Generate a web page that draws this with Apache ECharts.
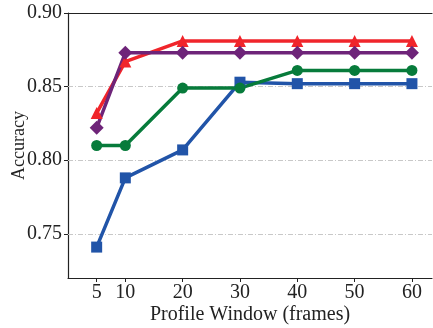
<!DOCTYPE html>
<html><head><meta charset="utf-8">
<script src="https://cdn.jsdelivr.net/npm/echarts@6/dist/echarts.min.js"></script>
<style>html,body{margin:0;padding:0;background:#fff}#c{width:433px;height:328px}</style>
</head><body><div id="c"></div>
<script>
const windows = [5, 10, 20, 30, 40, 50, 60];
const xTicks = [5, 10, 20, 30, 40, 50, 60];
const yTicks = [0.75, 0.80, 0.85, 0.90];
const blueSquare = [0.741, 0.788, 0.807, 0.853, 0.852, 0.852, 0.852];
const greenCircle = [0.810, 0.810, 0.849, 0.849, 0.861, 0.861, 0.861];
const redTriangle = [0.832, 0.867, 0.881, 0.881, 0.881, 0.881, 0.881];
const purpleDiamond = [0.822, 0.873, 0.873, 0.873, 0.873, 0.873, 0.873];

const font = 'Liberation Serif';
function mk(name, vals, color, symbol, size) {
  return {
    name, type: 'line', data: windows.map((w, i) => [w, vals[i]]),
    symbol, symbolSize: size, showSymbol: true,
    lineStyle: { color, width: 3.5 }, itemStyle: { color },
    emphasis: { disabled: true }, animation: false, z: 3
  };
}
const chart = echarts.init(document.getElementById('c'), null, { renderer: 'canvas' });
chart.setOption({
  animation: false,
  grid: { left: 68, right: 1, top: 13, bottom: 50, containLabel: false, outerBoundsMode: 'none' },
  xAxis: [{
    type: 'value', min: 0, max: 63.5,
    name: 'Profile Window (frames)', nameLocation: 'middle', nameGap: 27, nameMoveOverlap: false,
    nameTextStyle: { fontFamily: font, fontSize: 20, color: '#222', verticalAlign: 'top' },
    axisLine: { show: true, lineStyle: { color: '#222', width: 1.2 } },
    axisTick: { show: true, customValues: xTicks, length: 4, lineStyle: { color: '#222' } },
    axisLabel: { customValues: xTicks, fontFamily: font, fontSize: 20, color: '#222', margin: 5 },
    splitLine: { show: false }
  }, {
    type: 'value', position: 'top', min: 0, max: 63.5,
    axisLine: { show: true, lineStyle: { color: '#222', width: 1.2 } },
    axisTick: { show: false }, axisLabel: { show: false }, splitLine: { show: false }
  }],
  yAxis: {
    type: 'value', min: 0.72, max: 0.90,
    name: 'Accuracy', nameLocation: 'middle', nameGap: 40, nameRotate: 90, nameMoveOverlap: false,
    nameTextStyle: { fontFamily: font, fontSize: 18, color: '#222' },
    axisLine: { show: true, lineStyle: { color: '#222', width: 1.2 } },
    axisTick: { show: true, customValues: yTicks, length: 4, lineStyle: { color: '#222' } },
    axisLabel: { customValues: yTicks, formatter: v => v.toFixed(2), fontFamily: font, fontSize: 20, color: '#222', margin: 6 },
    splitLine: { show: false }
  },
  series: [
    Object.assign(mk('blue', blueSquare, '#2154a8', 'rect', 11), {
      markLine: {
        silent: true, symbol: 'none', animation: false,
        label: { show: false },
        lineStyle: { color: '#c8c8c8', type: [5, 2, 1, 2], width: 1 },
        data: [{ yAxis: 0.75 }, { yAxis: 0.80 }, { yAxis: 0.85 }],
        z: 1
      }
    }),
    mk('green', greenCircle, '#077b3b', 'circle', 11),
    mk('red', redTriangle, '#f0252b', 'triangle', 12),
    mk('purple', purpleDiamond, '#6e2479', 'diamond', 14)
  ]
});
</script></body></html>
